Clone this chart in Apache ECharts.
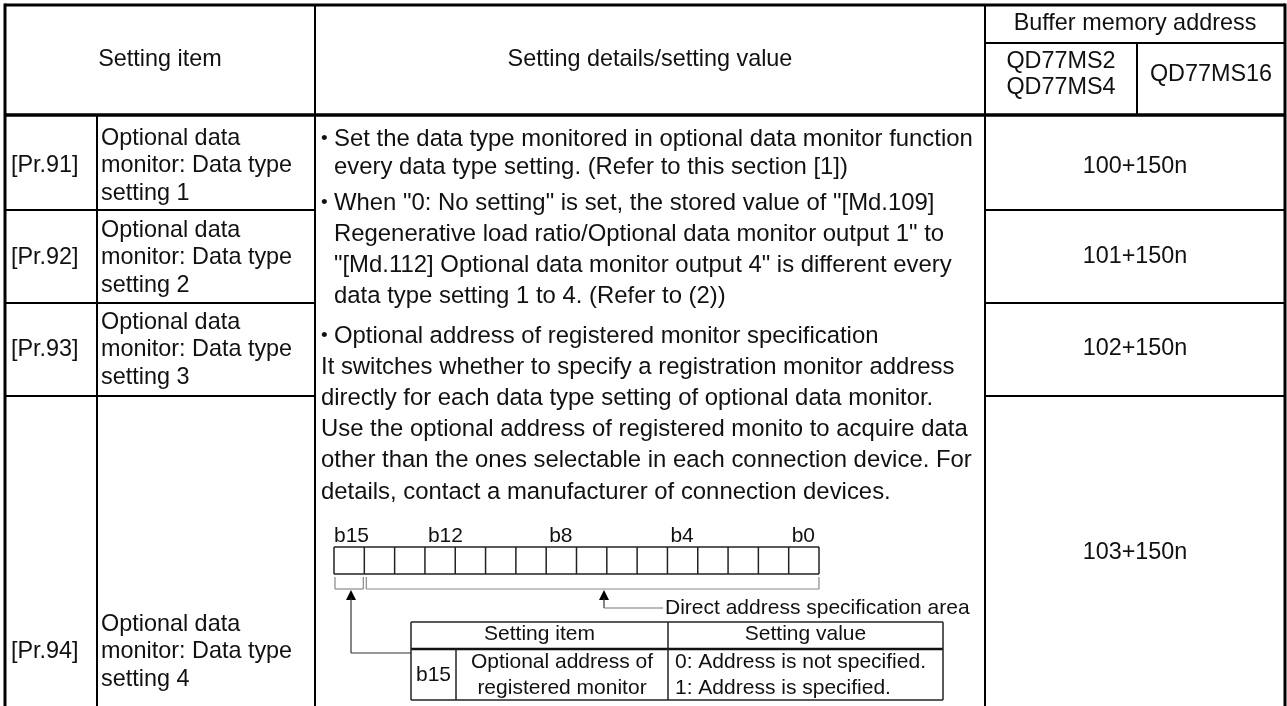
<!DOCTYPE html>
<html>
<head>
<meta charset="utf-8">
<script src="https://cdn.jsdelivr.net/npm/echarts@6/dist/echarts.min.js"></script>
<style>
html,body{margin:0;padding:0;background:#fff;}
#chart{width:1287px;height:706px;}
</style>
</head>
<body>
<div id="chart"></div>
<script>
// ---- table content ----
const headerSettingItem = 'Setting item';
const headerDetails = 'Setting details/setting value';
const headerBuffer = 'Buffer memory address';
const headerModelsA = ['QD77MS2', 'QD77MS4'];
const headerModelB = 'QD77MS16';

const itemCodes = ['[Pr.91]', '[Pr.92]', '[Pr.93]', '[Pr.94]'];
const itemNames = [
  ['Optional data', 'monitor: Data type', 'setting 1'],
  ['Optional data', 'monitor: Data type', 'setting 2'],
  ['Optional data', 'monitor: Data type', 'setting 3'],
  ['Optional data', 'monitor: Data type', 'setting 4']
];
const bufferAddresses = ['100+150n', '101+150n', '102+150n', '103+150n'];

const detailPara1 = [
  'Set the data type monitored in optional data monitor function',
  'every data type setting. (Refer to this section [1])'
];
const detailPara2 = [
  'When "0: No setting" is set, the stored value of "[Md.109]',
  'Regenerative load ratio/Optional data monitor output 1" to',
  '"[Md.112] Optional data monitor output 4" is different every',
  'data type setting 1 to 4. (Refer to (2))'
];
const detailPara3 = [
  'Optional address of registered monitor specification',
  'It switches whether to specify a registration monitor address',
  'directly for each data type setting of optional data monitor.',
  'Use the optional address of registered monito to acquire data',
  'other than the ones selectable in each connection device. For',
  'details, contact a manufacturer of connection devices.'
];

const bitLabels = ['b15', 'b12', 'b8', 'b4', 'b0'];
const bitLabelBits = [15, 12, 8, 4, 0];
const bitCount = 16;
const areaLabel = 'Direct address specification area';
const subHeader = ['Setting item', 'Setting value'];
const subBit = 'b15';
const subItem = ['Optional address of', 'registered monitor'];
const subValues = ['0: Address is not specified.', '1: Address is specified.'];

// ---- drawing helpers ----
const FONT = '"Liberation Sans", Arial, Helvetica, sans-serif';
const els = [];
function ln(x1, y1, x2, y2, w, c) {
  els.push({type: 'line', silent: true, shape: {x1, y1, x2, y2},
    style: {stroke: c || '#000', lineWidth: w || 1}});
}
function tx(x, y, s, size, align, color) {
  els.push({type: 'text', silent: true, x: x, y: y,
    style: {text: s, fontSize: size, fontFamily: FONT, fill: color || '#111',
      align: align || 'left', verticalAlign: 'middle'}});
}
function tri(x, yTip) {
  els.push({type: 'polygon', silent: true,
    shape: {points: [[x, yTip], [x - 5, yTip + 10], [x + 5, yTip + 10]]},
    style: {fill: '#000'}});
}

// ---- table grid ----
const L = 5, R = 1285, T = 5, B = 720;
const colMain = 315, colAddr = 985, colSub = 1137, colCode = 97;
const headBottom = 115, headSplit = 43;
const rowEdges = [115, 210, 303, 396];
const FS = 23.4;
const FD = 23.9;

// inner lines
ln(colCode, headBottom, colCode, B, 2);
ln(colMain, T, colMain, B, 2);
ln(colAddr, T, colAddr, B, 2);
ln(colSub, headSplit, colSub, headBottom, 2);
ln(colAddr, headSplit, R, headSplit, 2);
for (let i = 1; i < rowEdges.length; i++) {
  ln(L, rowEdges[i], colMain, rowEdges[i], 2);
  ln(colAddr, rowEdges[i], R, rowEdges[i], 2);
}
ln(L, headBottom, R, headBottom, 3.5);
// outer border
ln(L, T, R, T, 3);
ln(L, T - 1.5, L, B, 3);
ln(R, T - 1.5, R, B, 3);

// header text
tx((L + colMain) / 2, 60, headerSettingItem, FS, 'center');
tx((colMain + colAddr) / 2, 60, headerDetails, FS, 'center');
tx((colAddr + R) / 2, 24, headerBuffer, FS, 'center');
tx((colAddr + colSub) / 2, 62, headerModelsA[0], FS, 'center');
tx((colAddr + colSub) / 2, 88, headerModelsA[1], FS, 'center');
tx((colSub + R) / 2, 75, headerModelB, FS, 'center');

// rows
const rowCenters = [166, 258, 350, 652];
const addrCenters = [167, 257, 349, 553];
const nameGap = 27.5;
itemCodes.forEach((code, i) => {
  const c = rowCenters[i];
  tx(11, c, code, FS, 'left');
  itemNames[i].forEach((s, j) => tx(101, c + (j - 1) * nameGap, s, FS, 'left'));
  tx((colAddr + R) / 2, addrCenters[i], bufferAddresses[i], FS, 'center');
});

// details text
const bulletX = 321, textX = 334;
function para(lines, y0, gap, indentCont) {
  lines.forEach((s, j) => {
    const y = y0 + j * gap;
    if (j === 0) { tx(bulletX, y, '\u2022', FD * 0.8, 'left'); tx(textX, y, s, FD, 'left'); }
    else tx(indentCont ? textX : bulletX, y, s, FD, 'left');
  });
}
para(detailPara1, 139, 28, true);
para(detailPara2, 203, 31, true);
para(detailPara3, 336, 31.2, false);

// ---- bit register diagram ----
const regL = 334, regR = 819, regT = 547, regB = 574;
const cw = (regR - regL) / bitCount;
const DF = 21;
bitLabels.forEach((s, i) => {
  const cell = bitCount - 1 - bitLabelBits[i];
  tx(regL + cell * cw + (i === 0 ? 0 : 3), 536, s, DF, 'left');
});
ln(regL, regT, regR, regT, 1.5, '#222');
ln(regL, regB, regR, regB, 1.5, '#222');
for (let k = 0; k <= bitCount; k++) {
  const x = regL + k * cw;
  ln(x, regT, x, regB, 1.5, '#222');
}
// brackets
const bc = '#888';
ln(regL + 1, 577, regL + 1, 589, 1.2, bc);
ln(regL + cw - 1, 577, regL + cw - 1, 589, 1.2, bc);
ln(regL + 1, 589, regL + cw - 1, 589, 1.2, bc);
ln(regL + cw + 2, 577, regL + cw + 2, 589, 1.2, bc);
ln(regR, 577, regR, 589, 1.2, bc);
ln(regL + cw + 2, 589, regR, 589, 1.2, bc);
// arrow to area label
tri(604, 590);
ln(604, 598, 604, 608, 1.2, '#333');
ln(604, 608, 663, 608, 1.2, '#777');
tx(665, 608, areaLabel, DF, 'left');
// arrow to sub table
tri(351, 590);
ln(351, 598, 351, 653, 1.2, '#333');
ln(351, 653, 411, 653, 1.2, '#333');

// sub table
const sL = 411, sR = 943, sT = 622, sH = 649, sB = 700, sBit = 456, sMid = 668;
ln(sL, sT, sR, sT, 1.5, '#222');
ln(sL, sH, sR, sH, 2.5, '#111');
ln(sL, sB, sR, sB, 1.5, '#222');
ln(sL, sT, sL, sB, 1.5, '#222');
ln(sR, sT, sR, sB, 1.5, '#222');
ln(sMid, sT, sMid, sB, 1.5, '#222');
ln(sBit, sH, sBit, sB, 1.5, '#222');
tx((sL + sMid) / 2, 634, subHeader[0], DF, 'center');
tx((sMid + sR) / 2, 634, subHeader[1], DF, 'center');
tx((sL + sBit) / 2, 675, subBit, DF, 'center');
tx((sBit + sMid) / 2, 662, subItem[0], DF, 'center');
tx((sBit + sMid) / 2, 688, subItem[1], DF, 'center');
tx(675, 662, subValues[0], DF, 'left');
tx(675, 688, subValues[1], DF, 'left');

const chart = echarts.init(document.getElementById('chart'), null, {renderer: 'canvas'});
chart.setOption({backgroundColor: '#fff', animation: false, graphic: {elements: els}});
</script>
</body>
</html>
